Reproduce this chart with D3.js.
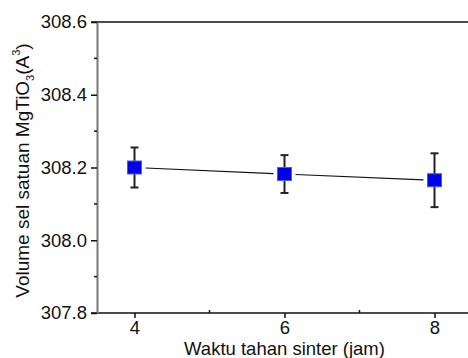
<!DOCTYPE html>
<html>
<head>
<meta charset="utf-8">
<script src="https://cdn.jsdelivr.net/npm/d3@7"></script>
<style>
  html, body { margin: 0; padding: 0; background: #fff; }
  svg { display: block; font-family: "Liberation Sans", Arial, sans-serif; }
</style>
</head>
<body>
<svg id="chart" width="468" height="358"></svg>
<script>
// Sintering hold time (hours) vs. MgTiO3 unit-cell volume
const holdTime = [4, 6, 8];
const cellVolume = [308.200, 308.182, 308.165];
const volumeError = [0.055, 0.052, 0.074];
const xTicks = [4, 6, 8];
const xMinorTicks = [5, 7];
const yTicks = [307.8, 308.0, 308.2, 308.4, 308.6];
const yMinorTicks = [307.9, 308.1, 308.3, 308.5];

const svg = d3.select("#chart");
const plotL = 97, plotR = 472, plotT = 22, plotB = 313;
const tickFont = 18.5, titleFont = 19;

const x = d3.scaleLinear().domain([3.5, 8.5]).range([plotL, plotR]);
const y = d3.scaleLinear().domain([307.8, 308.6]).range([plotB, plotT]);

// frame: top and bottom lines in black, left axis in grey
svg.append("line").attr("x1", plotL - 6).attr("x2", 468).attr("y1", plotT).attr("y2", plotT)
  .attr("stroke", "#111").attr("stroke-width", 1.5);

// x axis
const xAxis = svg.append("g").attr("transform", `translate(0,${plotB})`)
  .call(d3.axisBottom(x).tickValues(xTicks).tickFormat(d3.format("d")).tickSize(5).tickSizeOuter(0));
xAxis.select(".domain").attr("stroke", "#111").attr("stroke-width", 1.5).attr("d", `M${plotL - 6},0H468`);
xAxis.selectAll(".tick line").attr("stroke", "#111").attr("stroke-width", 1.5);
xAxis.selectAll(".tick text").attr("font-size", tickFont).attr("fill", "#111").attr("dy", "0.71em").attr("y", 7.5);
svg.append("g").attr("transform", `translate(0,${plotB})`)
  .selectAll("line").data(xMinorTicks).join("line")
  .attr("x1", d => x(d)).attr("x2", d => x(d)).attr("y1", 0).attr("y2", -3)
  .attr("stroke", "#111").attr("stroke-width", 1.5);

// y axis
const yAxis = svg.append("g").attr("transform", `translate(${plotL},0)`)
  .call(d3.axisLeft(y).tickValues(yTicks).tickFormat(d3.format(".1f")).tickSize(6).tickSizeOuter(0));
yAxis.select(".domain").attr("stroke", "#777").attr("stroke-width", 2);
yAxis.selectAll(".tick line").attr("stroke", "#111").attr("stroke-width", 1.5);
yAxis.selectAll(".tick text").attr("font-size", tickFont).attr("fill", "#111").attr("x", -10);
svg.append("g").attr("transform", `translate(${plotL},0)`)
  .selectAll("line").data(yMinorTicks).join("line")
  .attr("x1", 0).attr("x2", -3).attr("y1", d => y(d)).attr("y2", d => y(d))
  .attr("stroke", "#111").attr("stroke-width", 1.5);

// axis titles
svg.append("text").attr("x", (plotL + plotR) / 2).attr("y", 354.5)
  .attr("text-anchor", "middle").attr("font-size", 18.5).attr("fill", "#111")
  .text("Waktu tahan sinter (jam)");

const yTitle = svg.append("text")
  .attr("transform", `translate(29,${(plotT + plotB) / 2 + 3}) rotate(-90)`)
  .attr("text-anchor", "middle").attr("font-size", titleFont).attr("fill", "#111");
yTitle.append("tspan").text("Volume sel satuan MgTiO");
yTitle.append("tspan").attr("font-size", 11).attr("dy", 5).text("3");
yTitle.append("tspan").attr("dy", -5).text("(A");
yTitle.append("tspan").attr("font-size", 11).attr("dy", -9).text("3");
yTitle.append("tspan").attr("dy", 9).text(")");

const pts = holdTime.map((t, i) => ({ t, v: cellVolume[i], e: volumeError[i] }));
const half = 7, gap = 4;

// connecting line, broken around each marker
const segs = d3.pairs(pts);
svg.append("g").selectAll("line").data(segs).join("line")
  .each(function ([a, b]) {
    const x1 = x(a.t), y1 = y(a.v), x2 = x(b.t), y2 = y(b.v);
    const len = Math.hypot(x2 - x1, y2 - y1), ux = (x2 - x1) / len, uy = (y2 - y1) / len;
    const off = half + gap;
    d3.select(this)
      .attr("x1", x1 + ux * off).attr("y1", y1 + uy * off)
      .attr("x2", x2 - ux * off).attr("y2", y2 - uy * off);
  })
  .attr("stroke", "#111").attr("stroke-width", 1.2);

// error bars
const eb = svg.append("g").attr("stroke", "#222").attr("stroke-width", 2);
eb.selectAll("line.stem").data(pts).join("line").attr("class", "stem")
  .attr("x1", d => x(d.t)).attr("x2", d => x(d.t))
  .attr("y1", d => y(d.v + d.e)).attr("y2", d => y(d.v - d.e));
eb.selectAll("line.capTop").data(pts).join("line").attr("class", "capTop")
  .attr("x1", d => x(d.t) - 4).attr("x2", d => x(d.t) + 4)
  .attr("y1", d => y(d.v + d.e)).attr("y2", d => y(d.v + d.e));
eb.selectAll("line.capBot").data(pts).join("line").attr("class", "capBot")
  .attr("x1", d => x(d.t) - 4).attr("x2", d => x(d.t) + 4)
  .attr("y1", d => y(d.v - d.e)).attr("y2", d => y(d.v - d.e));

// square markers
svg.append("g").selectAll("rect").data(pts).join("rect")
  .attr("x", d => x(d.t) - half).attr("y", d => y(d.v) - half + 0.5)
  .attr("width", half * 2).attr("height", half * 2 - 1)
  .attr("fill", "#0000e6").attr("stroke", "#4a5cf0").attr("stroke-width", 1);
</script>
</body>
</html>
